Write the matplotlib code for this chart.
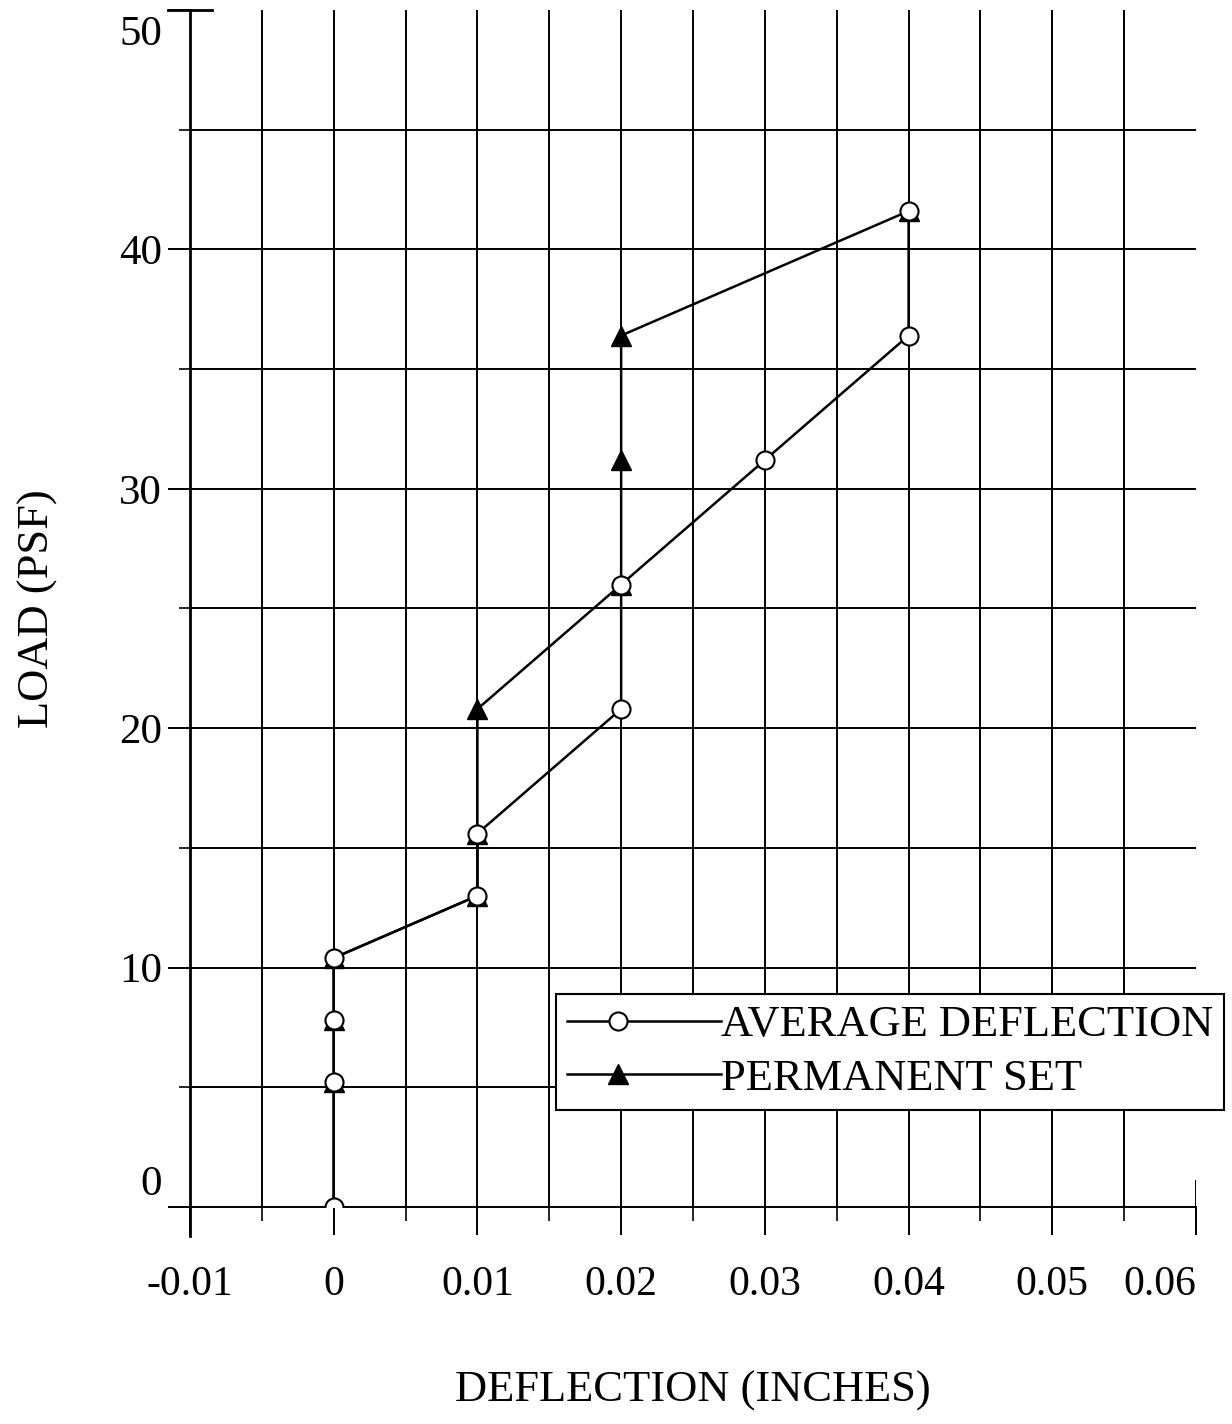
import numpy as np
import matplotlib
matplotlib.use('Agg')
import matplotlib.pyplot as plt
import matplotlib.transforms as mtransforms
from matplotlib.ticker import MultipleLocator

plt.rcParams['font.family'] = ['Liberation Serif', 'DejaVu Serif']

# load steps (psf) and readings (inches)
avg_load = [0, 5.2, 7.8, 10.4, 13.0, 15.6, 20.8, 26.0, 31.2, 36.4, 41.6]
avg_defl = [0, 0, 0, 0, 0.01, 0.01, 0.02, 0.02, 0.03, 0.04, 0.04]

set_load = [0, 5.2, 7.8, 10.4, 13.0, 15.6, 20.8, 26.0, 31.2, 36.4, 41.6]
set_defl = [0, 0, 0, 0, 0.01, 0.01, 0.01, 0.02, 0.02, 0.02, 0.04]

x_ticks = [-0.01, 0, 0.01, 0.02, 0.03, 0.04, 0.05, 0.06]
x_labels = ['-0.01', '0', '0.01', '0.02', '0.03', '0.04', '0.05', '0.06']
y_ticks = [0, 10, 20, 30, 40, 50]
y_labels = ['0', '10', '20', '30', '40', '50']

fig = plt.figure(figsize=(12.32, 14.24), dpi=100)
ax = fig.add_axes([0.1542, 0.1524, 0.9708 - 0.1542, 0.993 - 0.1524])

# permanent set first so the circles sit on top
ax.plot(set_defl, set_load, color='black', lw=1.8, marker='^', ms=14,
        mfc='black', mec='black', label='PERMANENT SET', zorder=3)
ax.plot(avg_defl, avg_load, color='black', lw=1.8, marker='o', ms=13,
        mfc='white', mec='black', mew=1.5, label='AVERAGE DEFLECTION', zorder=4)

ax.set_xlim(-0.01, 0.06)
ax.set_ylim(0, 50)

ax.set_xticks(x_ticks)
ax.set_xticklabels(x_labels)
ax.set_yticks(y_ticks)
ax.set_yticklabels(y_labels)
ax.xaxis.set_minor_locator(MultipleLocator(0.005))
ax.yaxis.set_minor_locator(MultipleLocator(5))

ax.tick_params(axis='x', which='major', direction='out', length=20, width=1.4,
               pad=22, labelsize=30)
ax.tick_params(axis='x', which='minor', direction='out', length=10, width=1.2)
ax.tick_params(axis='y', which='major', direction='out', length=16, width=1.4,
               pad=4, labelsize=31)
ax.tick_params(axis='y', which='minor', direction='out', length=8, width=1.2)

ax.grid(True, which='both', color='black', lw=1.4)
ax.set_axisbelow(True)

for s in ['top', 'right']:
    ax.spines[s].set_visible(False)
ax.spines['left'].set_linewidth(2)
ax.spines['bottom'].set_linewidth(1.4)
ax.spines['left'].set_bounds(-1.2, 50)
ax.spines['left'].set_position(('data', -0.01))

# no gridline along the top and right edges
ax.yaxis.get_major_ticks()[-1].gridline.set_visible(False)
ax.xaxis.get_major_ticks()[-1].gridline.set_visible(False)
ax.axvline(0.06, ymin=0, ymax=0.022, color='black', lw=1.4)
ax.axhline(50, xmin=-0.022, xmax=0.022, color='black', lw=2, clip_on=False)

# end labels pulled inward like the original
xl = ax.get_xticklabels()
xl[-1].set_horizontalalignment('right')
yl = ax.get_yticklabels()
yl[0].set_transform(yl[0].get_transform() +
                    mtransforms.ScaledTranslation(0, 0.27, fig.dpi_scale_trans))
yl[-1].set_transform(yl[-1].get_transform() +
                     mtransforms.ScaledTranslation(0, -0.20, fig.dpi_scale_trans))

ax.set_xlabel('DEFLECTION (INCHES)', fontsize=32, labelpad=48)
ax.set_ylabel('LOAD (PSF)', fontsize=32, labelpad=44)

h, l = ax.get_legend_handles_labels()
leg = ax.legend(h[::-1], l[::-1], loc='lower left', bbox_to_anchor=(0.364, 0.081),
                fontsize=32, frameon=True, fancybox=False, framealpha=1,
                edgecolor='black', handlelength=3.45, handletextpad=0.0,
                labelspacing=0.3, borderpad=0.25, borderaxespad=0, numpoints=1)
leg.get_frame().set_linewidth(1.5)
leg.set_zorder(5)

# marker sits about a third along the legend line, as in the original
for hl in leg.legend_handles:
    xd = np.asarray(hl.get_xdata(), dtype=float)
    if len(xd) == 3:
        xd[1] = xd[0] + 0.33 * (xd[2] - xd[0])
        hl.set_xdata(xd)

fig.savefig('out.png', dpi=100)
